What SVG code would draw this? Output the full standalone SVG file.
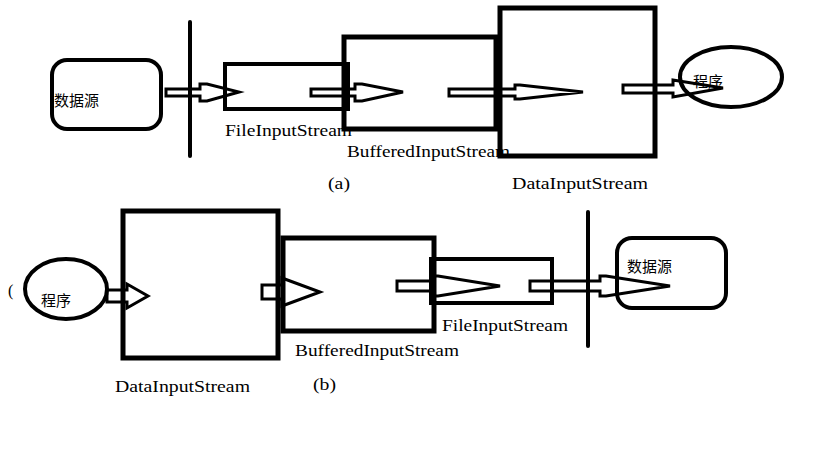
<svg xmlns="http://www.w3.org/2000/svg" width="819" height="460" viewBox="0 0 819 460">
<style>
.box{fill:none;stroke:#000;stroke-width:5}
.rb{fill:none;stroke:#000;stroke-width:4}
.bar{stroke:#000;stroke-width:4;stroke-linecap:round}
.arr{fill:#fff;stroke:#000;stroke-width:3;stroke-linejoin:miter}
.lbl{font-family:"Liberation Serif",serif;font-size:16px;fill:#000}
.cn{font-family:"Noto Sans CJK SC",sans-serif;font-size:15px;fill:#000}
</style>
<rect width="819" height="460" fill="#fff"/>
<g id="connectors">
<polygon class="arr" points="166,89 200,89 200,84 207,84 239,92 207,101 200,101 200,96 166,96"/>
<polygon class="arr" points="311,89 355,89 355,84 362,84 403,92 362,101 355,101 355,96 311,96"/>
<polygon class="arr" points="449,89 515,89 515,85 520,85 583,92 520,99 515,99 515,96 449,96"/>
<polygon class="arr" points="623,85 673,85 673,80 723,88 673,97 673,93 623,93"/>
<polygon class="arr" points="107,290 127,290 127,284 148,296 127,308 127,302 107,302"/>
<polygon class="arr" points="262,285 282,285 282,278 320,292 282,306 282,299 262,299"/>
<polygon class="arr" points="397,281 432,281 432,276 438,276 500,286 438,296 432,296 432,291 397,291"/>
<polygon class="arr" points="530,281 600,281 600,276 606,276 670,286 606,296 600,296 600,291 530,291"/>
</g>
<g id="a-source"><rect class="rb" x="52" y="60" width="109" height="69" rx="15"/><text class="cn" x="54" y="106">数据源</text></g>
<g id="a-boundary"><line class="bar" x1="190" y1="22" x2="190" y2="156"/></g>
<g id="a-file"><rect class="rb" x="225" y="64" width="123" height="45"/><text class="lbl" x="225" y="136" textLength="127" lengthAdjust="spacingAndGlyphs">FileInputStream</text></g>
<g id="a-buffered"><rect class="box" x="344" y="37" width="152" height="92"/><text class="lbl" x="347" y="157" textLength="163" lengthAdjust="spacingAndGlyphs">BufferedInputStream</text></g>
<g id="a-data"><rect class="box" x="500" y="8" width="155" height="148"/><text class="lbl" x="512" y="189" textLength="136" lengthAdjust="spacingAndGlyphs">DataInputStream</text></g>
<g id="a-program"><ellipse class="rb" cx="731" cy="77" rx="51" ry="30"/><text class="cn" x="693" y="87">程序</text></g>
<text class="lbl" x="328" y="189" textLength="22" lengthAdjust="spacingAndGlyphs">(a)</text>
<g id="b-program"><ellipse class="rb" cx="66" cy="289" rx="41" ry="30"/><text class="cn" x="41" y="306">程序</text></g>
<text class="lbl" x="8" y="296" font-size="13">(</text>
<g id="b-data"><rect class="box" x="123" y="211" width="155" height="147"/><text class="lbl" x="115" y="392" textLength="135" lengthAdjust="spacingAndGlyphs">DataInputStream</text></g>
<g id="b-buffered"><rect class="box" x="283" y="238" width="151" height="93"/><text class="lbl" x="295" y="356" textLength="164" lengthAdjust="spacingAndGlyphs">BufferedInputStream</text></g>
<g id="b-file"><rect class="rb" x="431" y="259" width="121" height="44"/><text class="lbl" x="442" y="331" textLength="126" lengthAdjust="spacingAndGlyphs">FileInputStream</text></g>
<g id="b-boundary"><line class="bar" x1="588" y1="212" x2="588" y2="346"/></g>
<g id="b-source"><rect class="rb" x="617" y="238" width="109" height="70" rx="15"/><text class="cn" x="627" y="272">数据源</text></g>
<text class="lbl" x="313" y="390" textLength="23" lengthAdjust="spacingAndGlyphs">(b)</text>
</svg>
